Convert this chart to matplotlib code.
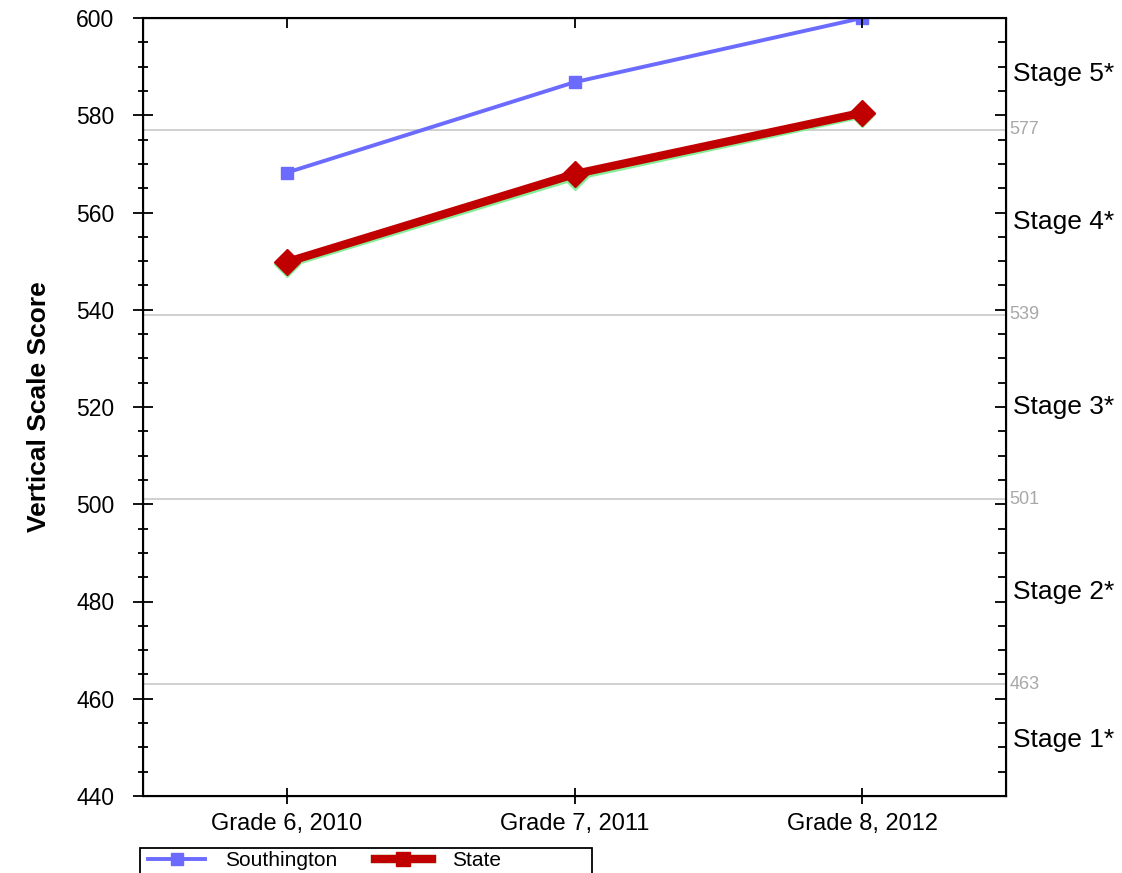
import matplotlib
matplotlib.use("Agg")
import matplotlib.pyplot as plt
from matplotlib.ticker import MultipleLocator
from matplotlib.lines import Line2D
from matplotlib.patches import Rectangle

plt.rcParams["font.family"] = ["Liberation Sans", "DejaVu Sans"]

grades = ["Grade 6, 2010", "Grade 7, 2011", "Grade 8, 2012"]
southington = [568.2, 586.8, 600.0]
state = [549.8, 567.9, 580.5]
state_shadow = [549.4, 567.4, 580.2]
cut_scores = [463, 501, 539, 577]
stage_labels = ["Stage 1*", "Stage 2*", "Stage 3*", "Stage 4*", "Stage 5*"]
ymin, ymax = 440, 600

W, H = 1122, 873
fig = plt.figure(figsize=(W / 100, H / 100), dpi=100)
ax = fig.add_axes([143 / W, 1 - 796 / H, 863 / W, 778 / H])
x = list(range(len(grades)))

for c in cut_scores:
    ax.axhline(c, color="#c8c8c8", lw=1.2, zorder=1)

ax.plot(x, state_shadow, color="#86ee98", lw=6, marker="D", ms=13, zorder=2)
ax.plot(x, state, color="#c00000", lw=6, marker="D", ms=13, zorder=3)
ax.plot(x, southington, color="#6b6bff", lw=2.8, marker="s", ms=9,
        markerfacecolor="#6b6bff", markeredgecolor="#6b6bff", zorder=4)

ax.set_xlim(-0.5, len(grades) - 0.5)
ax.set_ylim(ymin, ymax)
ax.set_xticks(x)
ax.set_xticklabels(grades, fontsize=17)
ax.yaxis.set_major_locator(MultipleLocator(20))
ax.yaxis.set_minor_locator(MultipleLocator(5))
ax.tick_params(axis="y", which="major", direction="inout", length=15, width=1.3,
               labelsize=16.5, pad=13)
ax.tick_params(axis="y", which="minor", direction="inout", length=7, width=1.3)
ax.tick_params(axis="x", which="major", direction="inout", length=12, width=1.3, pad=6)
for s in ax.spines.values():
    s.set_linewidth(1.5)
ax.set_ylabel("Vertical Scale Score", fontsize=19, fontweight="bold", labelpad=18)

# right and top spine ticks (inward only)
axr = ax.twinx()
axr.set_ylim(ymin, ymax)
axr.yaxis.set_major_locator(MultipleLocator(20))
axr.yaxis.set_minor_locator(MultipleLocator(5))
axr.tick_params(axis="y", which="major", direction="in", length=8, width=1.3, labelright=False)
axr.tick_params(axis="y", which="minor", direction="in", length=6, width=1.3)
axt = ax.twiny()
axt.set_xlim(ax.get_xlim())
axt.set_xticks(x)
axt.tick_params(axis="x", direction="in", length=7, width=1.3, labeltop=False)

# cut score labels and stage labels on the right
for c in cut_scores:
    ax.text(1.004, c, str(c), transform=ax.get_yaxis_transform(), color="#a8a8a8",
            fontsize=13, va="center", ha="left")
bounds = [ymin] + cut_scores + [ymax]
for i, lab in enumerate(stage_labels):
    mid = (bounds[i] + bounds[i + 1]) / 2
    ax.text(1.008, mid, lab, transform=ax.get_yaxis_transform(), fontsize=19,
            va="center", ha="left")

# legend box (cut off by the bottom edge as in the original)
fig.patches.append(Rectangle((140 / W, -0.02), 452 / W, 0.02 + (H - 848) / H,
                             transform=fig.transFigure, fill=False,
                             edgecolor="black", lw=1.3))
handles = [
    Line2D([], [], color="#6b6bff", lw=2.8, marker="s", ms=8),
    (Line2D([], [], color="#86ee98", lw=6, marker="D", ms=6),
     Line2D([], [], color="#c00000", lw=6, marker="s", ms=10)),
]
fig.legend(handles, ["Southington", "State"], loc="center left",
           bbox_to_anchor=(148 / W, 1 - 861 / H), ncol=2, fontsize=15,
           frameon=False, borderpad=0, handlelength=2.75, handletextpad=0.95,
           borderaxespad=0, columnspacing=1.8)

fig.savefig("out.png", dpi=100)
